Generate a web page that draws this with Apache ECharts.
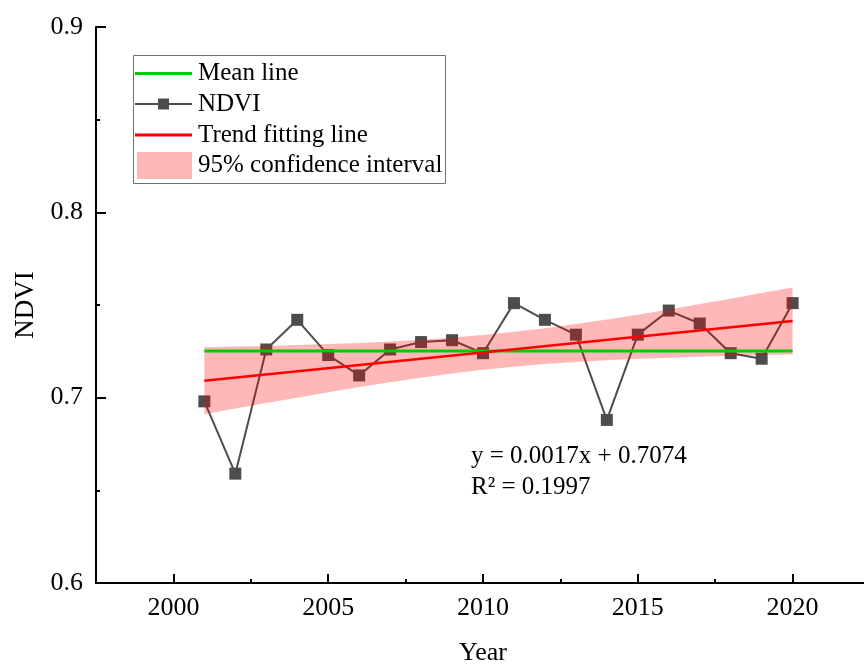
<!DOCTYPE html>
<html>
<head>
<meta charset="utf-8">
<script src="https://cdn.jsdelivr.net/npm/echarts@6/dist/echarts.min.js"></script>
<style>
  html, body { margin: 0; padding: 0; background: #ffffff; }
  #chart { width: 864px; height: 664px; }
</style>
</head>
<body>
<div id="chart"></div>
<script>
// Annual mean NDVI, 2001-2020
const years = [2001, 2002, 2003, 2004, 2005, 2006, 2007, 2008, 2009, 2010,
               2011, 2012, 2013, 2014, 2015, 2016, 2017, 2018, 2019, 2020];
const ndvi = [0.698, 0.659, 0.726, 0.742, 0.723, 0.712, 0.726, 0.730, 0.731, 0.724,
              0.751, 0.742, 0.734, 0.688, 0.734, 0.747, 0.740, 0.724, 0.721, 0.751];

// 95% confidence band of the fitted trend
const ciUpper = [0.7272, 0.7276, 0.7279, 0.7284, 0.7289, 0.7295, 0.7303, 0.7313, 0.7324, 0.7338,
                 0.7355, 0.7375, 0.7398, 0.7422, 0.7448, 0.7476, 0.7505, 0.7534, 0.7565, 0.7595];
const ciLower = [0.6910, 0.6941, 0.6971, 0.7000, 0.7029, 0.7057, 0.7083, 0.7108, 0.7130, 0.7150,
                 0.7167, 0.7181, 0.7193, 0.7202, 0.7210, 0.7216, 0.7221, 0.7226, 0.7230, 0.7233];

// Multi-year mean and linear fit (x = year index, 1..20)
const meanNdvi = 0.7252;
const slope = 0.0017;
const intercept = 0.7074;
const rSquared = 0.1997;

// Axis ticks
const xLabelValues = [2000, 2005, 2010, 2015, 2020];
const yTicks = [0.6, 0.7, 0.8, 0.9];

const legendNames = ['Mean line', 'NDVI', 'Trend fitting line', '95% confidence interval'];

const FONT = '"Liberation Serif", "Times New Roman", serif';
const COLORS = {
  mean: '#00cc00',
  ndvi: '#4d4d4d',
  trend: '#ff0000',
  band: 'rgba(255, 0, 0, 0.28)'
};

const ndviData = years.map((y, i) => [y, ndvi[i]]);
const bandData = years.map((y, i) => [y, ciLower[i], ciUpper[i]]);
const firstYear = years[0];
const lastYear = years[years.length - 1];
const meanData = [[firstYear, meanNdvi], [lastYear, meanNdvi]];
const trendData = [
  [firstYear, intercept + slope * 1],
  [lastYear, intercept + slope * years.length]
];

// Confidence band: one closed polygon, upper edge forward then lower edge back
function renderBand(params, api) {
  if (params.dataIndex !== 0) return null;
  const upper = bandData.map(d => api.coord([d[0], d[2]]));
  const lower = bandData.slice().reverse().map(d => api.coord([d[0], d[1]]));
  return {
    type: 'polygon',
    shape: { points: upper.concat(lower) },
    style: { fill: COLORS.band, stroke: null }
  };
}

// Legend drawn as a boxed group
const legendX = 133, legendY = 55, legendW = 312, legendH = 128;
const rowY = [73.5, 104, 135, 165];
const iconX0 = 135, iconX1 = 192, textX = 198;
const legendChildren = [
  { type: 'rect', shape: { x: legendX + 0.5, y: legendY + 0.5, width: legendW, height: legendH },
    style: { fill: '#ffffff', stroke: '#707070', lineWidth: 1 } },
  { type: 'line', shape: { x1: iconX0, y1: rowY[0], x2: iconX1, y2: rowY[0] },
    style: { stroke: COLORS.mean, lineWidth: 3 } },
  { type: 'line', shape: { x1: iconX0, y1: rowY[1], x2: iconX1, y2: rowY[1] },
    style: { stroke: COLORS.ndvi, lineWidth: 2 } },
  { type: 'rect', shape: { x: (iconX0 + iconX1) / 2 - 5.5, y: rowY[1] - 5.5, width: 11, height: 11 },
    style: { fill: COLORS.ndvi } },
  { type: 'line', shape: { x1: iconX0, y1: rowY[2], x2: iconX1, y2: rowY[2] },
    style: { stroke: COLORS.trend, lineWidth: 3 } },
  { type: 'rect', shape: { x: 137, y: 152, width: 55, height: 27 },
    style: { fill: COLORS.band } }
];
legendNames.forEach((name, i) => {
  legendChildren.push({
    type: 'text', x: textX, y: rowY[i],
    style: { text: name, fill: '#000', font: '25px ' + FONT, textVerticalAlign: 'middle', textAlign: 'left' }
  });
});

const chart = echarts.init(document.getElementById('chart'), null, { renderer: 'canvas' });

chart.setOption({
  animation: false,
  backgroundColor: '#ffffff',
  grid: { left: 96, right: -6, top: 27, bottom: 81, containLabel: false, outerBoundsMode: 'none' },
  xAxis: {
    type: 'value',
    min: 1997.5,
    max: 2022.5,
    interval: 5,
    name: 'Year',
    nameLocation: 'middle',
    nameGap: 57,
    nameTextStyle: { fontFamily: FONT, fontSize: 26, color: '#000' },
    axisLine: { show: true, onZero: false, lineStyle: { color: '#000', width: 2 } },
    axisTick: { show: true, inside: true, length: 4, lineStyle: { color: '#000', width: 2 } },
    minorTick: { show: true, splitNumber: 2, length: 9, lineStyle: { color: '#000', width: 2 } },
    axisLabel: {
      customValues: xLabelValues,
      formatter: v => String(v),
      margin: 12,
      fontFamily: FONT, fontSize: 26, color: '#000'
    },
    splitLine: { show: false },
    minorSplitLine: { show: false }
  },
  yAxis: {
    type: 'value',
    min: yTicks[0],
    max: yTicks[yTicks.length - 1],
    interval: 0.1,
    name: 'NDVI',
    nameLocation: 'middle',
    nameGap: 50,
    nameTextStyle: { fontFamily: FONT, fontSize: 27, color: '#000' },
    axisLine: { show: true, onZero: false, lineStyle: { color: '#000', width: 2 } },
    axisTick: { show: true, inside: true, length: 10, lineStyle: { color: '#000', width: 2 } },
    minorTick: { show: true, splitNumber: 2, length: 4, lineStyle: { color: '#000', width: 2 } },
    axisLabel: {
      margin: 13,
      formatter: v => v.toFixed(1),
      fontFamily: FONT, fontSize: 26, color: '#000'
    },
    splitLine: { show: false },
    minorSplitLine: { show: false }
  },
  series: [
    {
      name: 'NDVI',
      type: 'line',
      data: ndviData,
      symbol: 'rect',
      symbolSize: 12,
      showSymbol: true,
      lineStyle: { color: COLORS.ndvi, width: 2 },
      itemStyle: { color: COLORS.ndvi },
      z: 2
    },
    {
      name: '95% confidence interval',
      type: 'custom',
      coordinateSystem: 'cartesian2d',
      data: bandData,
      encode: { x: 0, y: [1, 2] },
      renderItem: renderBand,
      silent: true,
      z: 3
    },
    {
      name: 'Mean line',
      type: 'line',
      data: meanData,
      symbol: 'none',
      lineStyle: { color: COLORS.mean, width: 3 },
      z: 4
    },
    {
      name: 'Trend fitting line',
      type: 'line',
      data: trendData,
      symbol: 'none',
      lineStyle: { color: COLORS.trend, width: 2.5 },
      z: 5
    }
  ],
  graphic: [
    { type: 'group', z: 100, children: legendChildren },
    {
      type: 'text', x: 471, y: 456, z: 100,
      style: {
        text: 'y = ' + slope.toFixed(4) + 'x + ' + intercept.toFixed(4),
        fill: '#000', font: '25px ' + FONT, textVerticalAlign: 'middle'
      }
    },
    {
      type: 'text', x: 471, y: 487, z: 100,
      style: {
        text: 'R\u00B2 = ' + rSquared.toFixed(4),
        fill: '#000', font: '25px ' + FONT, textVerticalAlign: 'middle'
      }
    }
  ]
});
</script>
</body>
</html>
